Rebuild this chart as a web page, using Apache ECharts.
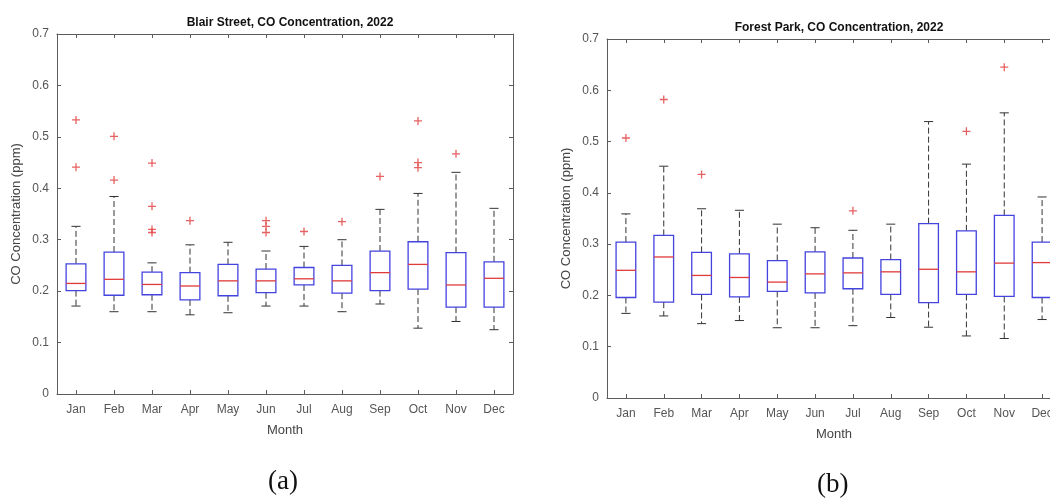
<!DOCTYPE html>
<html>
<head>
<meta charset="utf-8">
<script src="https://cdn.jsdelivr.net/npm/echarts@6/dist/echarts.min.js"></script>
<style>
  html, body { margin: 0; padding: 0; background: #fff; overflow: hidden; }
  /* the right panel runs past the window edge, as in the cropped original */
  #chart { width: 1064px; height: 502px; }
</style>
</head>
<body>
<div id="chart"></div>
<script>
const months = ['Jan', 'Feb', 'Mar', 'Apr', 'May', 'Jun', 'Jul', 'Aug', 'Sep', 'Oct', 'Nov', 'Dec'];
const yTicks = [0, 0.1, 0.2, 0.3, 0.4, 0.5, 0.6, 0.7];

// (a) Blair Street
const blairLow  = [0.171, 0.160, 0.160, 0.154, 0.158, 0.171, 0.171, 0.160, 0.175, 0.128, 0.141, 0.125];
const blairQ1   = [0.201, 0.192, 0.193, 0.183, 0.191, 0.197, 0.212, 0.196, 0.201, 0.204, 0.169, 0.169];
const blairMed  = [0.215, 0.223, 0.213, 0.210, 0.220, 0.220, 0.224, 0.220, 0.236, 0.252, 0.212, 0.225];
const blairQ3   = [0.253, 0.276, 0.237, 0.236, 0.252, 0.243, 0.246, 0.250, 0.278, 0.296, 0.275, 0.257];
const blairHigh = [0.326, 0.384, 0.255, 0.290, 0.295, 0.278, 0.287, 0.300, 0.359, 0.390, 0.431, 0.361];
const blairOut  = [[0.533, 0.441], [0.501, 0.416], [0.449, 0.365, 0.320, 0.314], [0.337], [],
                   [0.337, 0.326, 0.314], [0.316], [0.335], [0.423], [0.531, 0.450, 0.440], [0.467], []];

// (b) Forest Park
const forestLow  = [0.165, 0.160, 0.145, 0.151, 0.137, 0.137, 0.141, 0.157, 0.138, 0.121, 0.116, 0.153];
const forestQ1   = [0.196, 0.187, 0.202, 0.197, 0.208, 0.205, 0.213, 0.202, 0.186, 0.202, 0.198, 0.196];
const forestMed  = [0.249, 0.275, 0.239, 0.235, 0.226, 0.242, 0.244, 0.246, 0.251, 0.246, 0.263, 0.264];
const forestQ3   = [0.304, 0.317, 0.284, 0.281, 0.268, 0.285, 0.273, 0.270, 0.340, 0.326, 0.356, 0.304];
const forestHigh = [0.359, 0.452, 0.369, 0.366, 0.339, 0.332, 0.327, 0.339, 0.539, 0.456, 0.556, 0.392];
const forestOut  = [[0.507], [0.582], [0.436], [], [], [], [0.365], [], [], [0.520], [0.645], []];

const boxColor = '#4343e0';
const medColor = '#e03a3a';
const axisColor = '#5c5c5c';
const labelColor = '#555';
const font = 'Liberation Sans, Arial, sans-serif';

function boxRows(low, q1, med, q3, high) {
  return months.map((m, i) => [i, low[i], q1[i], med[i], q3[i], high[i]]);
}
function outRows(out) {
  const rows = [];
  out.forEach((vals, i) => vals.forEach(v => rows.push([i, v])));
  return rows;
}

function renderBox(params, api) {
  const x = api.value(0);
  const pLow = api.coord([x, api.value(1)]);
  const pQ1 = api.coord([x, api.value(2)]);
  const pMed = api.coord([x, api.value(3)]);
  const pQ3 = api.coord([x, api.value(4)]);
  const pHigh = api.coord([x, api.value(5)]);
  const band = api.size([1, 0])[0];
  const half = band * 0.26;
  const cap = band * 0.12;
  const cx = pMed[0];
  const dash = { stroke: '#333', lineWidth: 1, lineDash: [6, 3] };
  const solid = { stroke: '#333', lineWidth: 1 };
  return {
    type: 'group',
    children: [
      { type: 'line', shape: { x1: cx, y1: pQ3[1], x2: cx, y2: pHigh[1] }, style: dash },
      { type: 'line', shape: { x1: cx, y1: pQ1[1], x2: cx, y2: pLow[1] }, style: dash },
      { type: 'line', shape: { x1: cx - cap, y1: pHigh[1], x2: cx + cap, y2: pHigh[1] }, style: solid },
      { type: 'line', shape: { x1: cx - cap, y1: pLow[1], x2: cx + cap, y2: pLow[1] }, style: solid },
      { type: 'rect', shape: { x: cx - half, y: pQ3[1], width: half * 2, height: pQ1[1] - pQ3[1] },
        style: { fill: '#fff', stroke: boxColor, lineWidth: 1.3 } },
      { type: 'line', shape: { x1: cx - half, y1: pMed[1], x2: cx + half, y2: pMed[1] },
        style: { stroke: medColor, lineWidth: 1.3 } }
    ]
  };
}

function xAxisFor(grid, pos, showLabel) {
  return {
    type: 'category', gridIndex: grid, position: pos, data: months,
    name: showLabel ? 'Month' : '', nameLocation: 'middle', nameGap: 30,
    nameTextStyle: { color: '#444', fontSize: 13, fontFamily: font },
    axisLine: { show: true, onZero: false, lineStyle: { color: axisColor } },
    axisTick: { show: true, inside: true, alignWithLabel: true, length: 4, lineStyle: { color: axisColor } },
    axisLabel: { show: showLabel, color: labelColor, fontSize: 12, fontFamily: font, margin: 10 },
    splitLine: { show: false }
  };
}
function yAxisFor(grid, pos, showLabel) {
  return {
    type: 'value', gridIndex: grid, position: pos, min: 0, max: 0.7, interval: 0.1,
    name: showLabel ? 'CO Concentration (ppm)' : '', nameLocation: 'middle', nameGap: 34,
    nameTextStyle: { color: '#444', fontSize: 13, fontFamily: font },
    axisLine: { show: true, onZero: false, lineStyle: { color: axisColor } },
    axisTick: { show: true, inside: true, length: 4, lineStyle: { color: axisColor } },
    axisLabel: {
      show: showLabel, color: labelColor, fontSize: 12, fontFamily: font, margin: 8,
      formatter: v => {
        const t = yTicks.find(k => Math.abs(k - v) < 1e-6);
        return t === 0 ? '0' : t.toFixed(1);
      }
    },
    splitLine: { show: false }
  };
}

const chart = echarts.init(document.getElementById('chart'));
chart.setOption({
  backgroundColor: '#fff',
  animation: false,
  title: [
    { text: 'Blair Street, CO Concentration, 2022', left: 285, top: 12, textAlign: 'center',
      textStyle: { fontSize: 12, fontWeight: 'bold', color: '#111', fontFamily: font } },
    { text: 'Forest Park, CO Concentration, 2022', left: 834, top: 17, textAlign: 'center',
      textStyle: { fontSize: 12, fontWeight: 'bold', color: '#111', fontFamily: font } }
  ],
  grid: [
    { left: 57, top: 34, width: 456, height: 360 },
    { left: 607, top: 39, width: 454, height: 359 }
  ],
  xAxis: [
    xAxisFor(0, 'bottom', true), xAxisFor(0, 'top', false),
    xAxisFor(1, 'bottom', true), xAxisFor(1, 'top', false)
  ],
  yAxis: [
    yAxisFor(0, 'left', true), yAxisFor(0, 'right', false),
    yAxisFor(1, 'left', true), yAxisFor(1, 'right', false)
  ],
  graphic: [
    { type: 'text', left: 268, top: 468,
      style: { text: '(a)', fontSize: 27, fontFamily: 'Liberation Serif, serif', fill: '#111' } },
    { type: 'text', left: 817, top: 471,
      style: { text: '(b)', fontSize: 27, fontFamily: 'Liberation Serif, serif', fill: '#111' } }
  ],
  series: [
    { type: 'custom', xAxisIndex: 0, yAxisIndex: 0, renderItem: renderBox,
      encode: { x: 0, y: [1, 2, 3, 4, 5] },
      data: boxRows(blairLow, blairQ1, blairMed, blairQ3, blairHigh) },
    { type: 'scatter', xAxisIndex: 0, yAxisIndex: 0, data: outRows(blairOut),
      symbol: 'path://M0,5L10,5M5,0L5,10', symbolSize: 8,
      itemStyle: { color: 'none', borderColor: medColor, borderWidth: 1.3 } },
    { type: 'custom', xAxisIndex: 2, yAxisIndex: 2, renderItem: renderBox,
      encode: { x: 0, y: [1, 2, 3, 4, 5] },
      data: boxRows(forestLow, forestQ1, forestMed, forestQ3, forestHigh) },
    { type: 'scatter', xAxisIndex: 2, yAxisIndex: 2, data: outRows(forestOut),
      symbol: 'path://M0,5L10,5M5,0L5,10', symbolSize: 8,
      itemStyle: { color: 'none', borderColor: medColor, borderWidth: 1.3 } }
  ]
});
</script>
</body>
</html>
